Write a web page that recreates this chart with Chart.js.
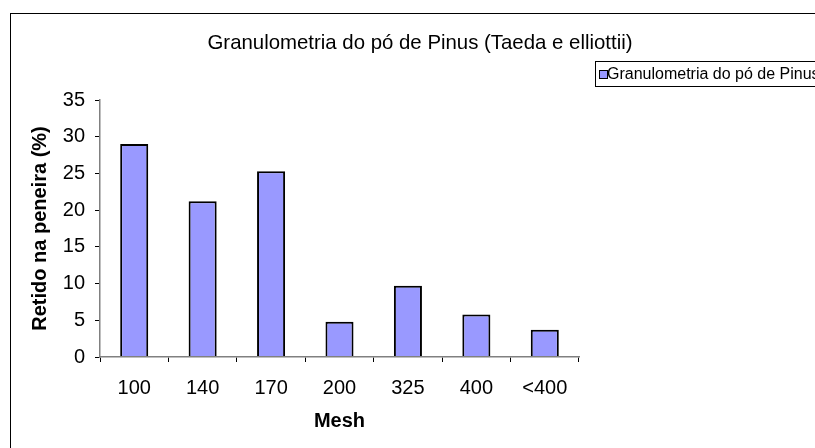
<!DOCTYPE html>
<html>
<head>
<meta charset="utf-8">
<script src="https://cdn.jsdelivr.net/npm/chart.js@4.4.1/dist/chart.umd.min.js"></script>
<style>
  html, body { margin: 0; padding: 0; background: #ffffff; }
  #wrap { width: 815px; height: 448px; position: relative; }
</style>
</head>
<body>
<div id="wrap"><canvas id="c" width="815" height="448"></canvas></div>
<script>
const categories = ['100', '140', '170', '200', '325', '400', '<400'];
const retained = [29.0, 21.2, 25.3, 4.8, 9.7, 5.8, 3.7];
const yTicks = [0, 5, 10, 15, 20, 25, 30, 35];
const chartTitle = 'Granulometria do pó de Pinus (Taeda e elliottii)';
const seriesName = 'Granulometria do pó de Pinus';
const xTitle = 'Mesh';
const yTitle = 'Retido na peneira (%)';

const FONT = 'Arial, "Liberation Sans", sans-serif';
const BAR_FILL = '#9999ff';

const decor = {
  id: 'decor',
  beforeDraw(chart) {
    const ctx = chart.ctx;
    ctx.save();
    ctx.fillStyle = '#ffffff';
    ctx.fillRect(0, 0, chart.width, chart.height);
    ctx.strokeStyle = '#000000';
    ctx.lineWidth = 1;
    ctx.strokeRect(10.5, 13.5, 900, 500);
    ctx.restore();
  },
  afterDraw(chart) {
    const ctx = chart.ctx;
    ctx.save();
    // title
    ctx.fillStyle = '#000000';
    ctx.font = '20.4px ' + FONT;
    ctx.textAlign = 'center';
    ctx.textBaseline = 'middle';
    ctx.fillText(chartTitle, 420, 43);
    // legend
    ctx.strokeStyle = '#000000';
    ctx.lineWidth = 1;
    ctx.fillStyle = '#ffffff';
    ctx.fillRect(595.5, 61.5, 300, 25);
    ctx.strokeRect(595.5, 61.5, 300, 25);
    ctx.fillStyle = BAR_FILL;
    ctx.fillRect(599.5, 70.5, 8, 8);
    ctx.strokeRect(599.5, 70.5, 8, 8);
    ctx.fillStyle = '#000000';
    ctx.font = '16px ' + FONT;
    ctx.textAlign = 'left';
    ctx.fillText(seriesName, 607, 74.5);
    ctx.restore();
  }
};

new Chart(document.getElementById('c'), {
  type: 'bar',
  data: {
    labels: categories,
    datasets: [{
      label: seriesName,
      data: retained,
      backgroundColor: BAR_FILL,
      borderColor: '#000000',
      borderWidth: 2,
      borderSkipped: 'bottom',
      barPercentage: 0.41,
      categoryPercentage: 1.0
    }]
  },
  options: {
    responsive: false,
    animation: false,
    layout: { padding: { left: 0, top: 100, right: 236, bottom: 0 } },
    plugins: {
      legend: { display: false },
      title: { display: false },
      tooltip: { enabled: false }
    },
    scales: {
      x: {
        offset: true,
        grid: {
          offset: true,
          drawOnChartArea: false,
          drawTicks: true,
          tickLength: 5,
          color: '#000000'
        },
        border: { display: true, color: '#808080', width: 1.5, z: 1 },
        ticks: {
          color: '#000000',
          font: { family: FONT, size: 20, lineHeight: 1.2 },
          padding: 14,
          maxRotation: 0,
          autoSkip: false
        },
        title: {
          display: true,
          text: xTitle,
          color: '#000000',
          font: { family: FONT, size: 20, weight: 'bold', lineHeight: 1.2 },
          padding: { top: 0, bottom: 15 }
        },
        afterFit(scale) { scale.height = 91; }
      },
      y: {
        min: 0,
        max: 35,
        afterBuildTicks(scale) { scale.ticks = yTicks.map(v => ({ value: v })); },
        grid: {
          drawOnChartArea: false,
          drawTicks: true,
          tickLength: 5,
          color: '#000000'
        },
        border: { display: true, color: '#808080', width: 1.5 },
        ticks: {
          color: '#000000',
          font: { family: FONT, size: 20, lineHeight: 1.2 },
          padding: 10
        },
        title: {
          display: true,
          text: yTitle,
          color: '#000000',
          font: { family: FONT, size: 20, weight: 'bold', lineHeight: 1.2 },
          padding: { top: 28, bottom: 0 }
        },
        afterFit(scale) { scale.width = 100; }
      }
    }
  },
  plugins: [decor]
});
</script>
</body>
</html>
